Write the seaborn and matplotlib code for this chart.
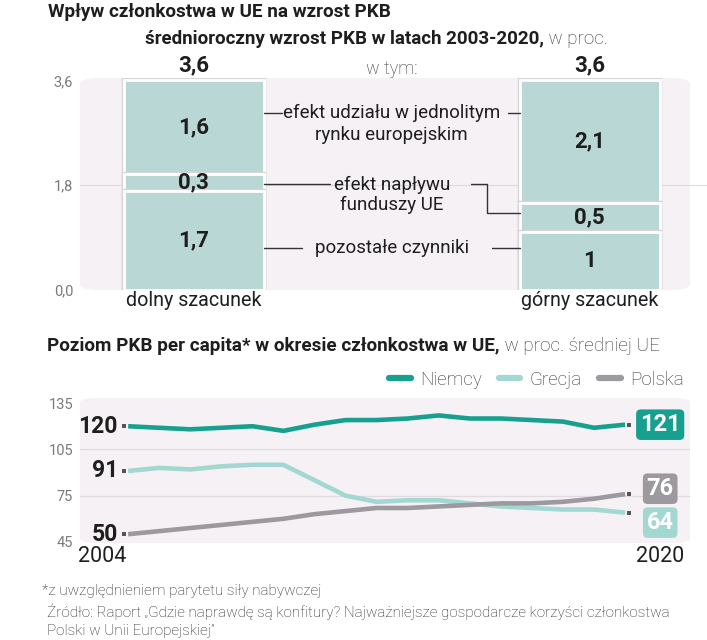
import numpy as np
import pandas as pd
import seaborn as sns
import matplotlib.pyplot as plt
from matplotlib.patches import FancyBboxPatch

# top chart: average annual GDP growth 2003-2020, %
estimates = ["dolny szacunek", "górny szacunek"]
pozostale = [1.7, 1.0]
fundusze = [0.3, 0.5]
jednolity = [1.6, 2.1]
totals = [3.6, 3.6]
top_ticks = [0.0, 1.8, 3.6]
top_tick_labels = ["0,0", "1,8", "3,6"]

# bottom chart: GDP per capita, % of EU average
years = list(range(2004, 2021))
niemcy = [120, 119, 118, 119, 120, 117, 121, 124, 124, 125, 127, 125, 125, 124, 123, 119, 121]
grecja = [91, 93, 92, 94, 95, 95, 85, 75, 71, 72, 72, 70, 68, 67, 66, 66, 64]
polska = [50, 52, 54, 56, 58, 60, 63, 65, 67, 67, 68, 69, 70, 70, 71, 73, 76]
countries = ["Niemcy", "Grecja", "Polska"]
bottom_ticks = [45, 75, 105, 135]

BAR = "#b4dcd9"
PANEL = "#f6f1f4"
DARK = "#1e1e1e"
GREY = "#7a7a7a"
palette = {"Niemcy": "#17a08f", "Grecja": "#a2d8d1", "Polska": "#9c9a9f"}
label_shift = {"Niemcy": 0, "Grecja": -6.5, "Polska": 3.5}


def fmt(v):
    return f"{v:g}".replace(".", ",")


sns.set_theme(style="white")
plt.rcParams["font.family"] = ["Roboto", "DejaVu Sans"]

fig = plt.figure(figsize=(7.07, 6.4), dpi=100)
W, H = 707, 640
renderer = fig.canvas.get_renderer()


def two_part(x, y, bold, light, size):
    # bold head followed by a lighter tail on the same line
    t = fig.text(x / W, 1 - y / H, bold, fontsize=size, fontweight="bold",
                 color=DARK, va="center")
    x1 = t.get_window_extent(renderer).x1
    fig.text(x1 / W, 1 - y / H, light, fontsize=size, fontweight="light",
             color="#333", va="center")


# titles
fig.text(48 / W, 1 - 12 / H, "Wpływ członkostwa w UE na wzrost PKB",
         fontsize=13.6, fontweight="bold", color=DARK, va="center")
two_part(145, 39, "średnioroczny wzrost PKB w latach 2003-2020,", " w proc.", 13.5)

# ---------------- top chart
ax1 = fig.add_axes([80 / W, 1 - 290 / H, 610 / W, 212 / H])
ax1.patch.set_visible(False)
bw = 0.354
layers = [np.array(totals),
          np.array(pozostale) + np.array(fundusze),
          np.array(pozostale)]
for cum in layers:
    # grey rim first, then white separator on top of it
    sns.barplot(x=estimates, y=cum, color=BAR, width=bw, edgecolor="#d6d6d6",
                linewidth=3.2, errorbar=None, ax=ax1, zorder=2)
    sns.barplot(x=estimates, y=cum, color=BAR, width=bw, edgecolor="white",
                linewidth=2.0, errorbar=None, ax=ax1, zorder=2)

ax1.add_patch(FancyBboxPatch((0, 0), 1, 1, boxstyle="round,pad=0,rounding_size=0.03",
                             transform=ax1.transAxes, fc=PANEL, ec="none", zorder=0))
ax1.axhline(1.8, color="#dcdcdc", lw=0.8, zorder=1, xmax=1.03, clip_on=False)
ax1.set_xlim(-0.288, 1.254)
ax1.set_ylim(0, 3.64)
sns.despine(ax=ax1, left=True, bottom=True)
ax1.set_yticks(top_ticks, top_tick_labels)
ax1.tick_params(axis="y", length=0, pad=5, labelsize=10.5, labelcolor=GREY)
ax1.set_xticks([0, 1], estimates)
ax1.tick_params(axis="x", length=0, pad=1, labelsize=14.2, labelcolor=DARK)
ax1.set_xlabel("")
ax1.set_ylabel("")

for i in range(2):
    bottoms = [0, pozostale[i], pozostale[i] + fundusze[i]]
    for b, v in zip(bottoms, [pozostale[i], fundusze[i], jednolity[i]]):
        ax1.text(i, b + v / 2, fmt(v), ha="center", va="center", fontsize=16,
                 fontweight="bold", color=DARK, zorder=5)
    ax1.text(i, totals[i] + 0.25, fmt(totals[i]), ha="center", va="center",
             fontsize=16, fontweight="bold", color=DARK)
ax1.text(0.5, 3.8, "w tym:", ha="center", va="center", fontsize=13,
         fontweight="light", color="#333")

# segment descriptions with leader lines
e1, e2 = bw / 2, 1 - bw / 2
lk = dict(color="#333", lw=1, zorder=3, clip_on=False)
tk = dict(ha="center", va="center", fontsize=13.5, color=DARK)
ax1.text(0.5, 3.04, "efekt udziału w jednolitym", **tk)
ax1.text(0.5, 2.66, "rynku europejskim", **tk)
ax1.plot([e1, 0.222], [3.04, 3.04], **lk)
ax1.plot([0.793, e2], [3.04, 3.04], **lk)
ax1.text(0.5, 1.80, "efekt napływu", **tk)
ax1.text(0.5, 1.46, "funduszy UE", **tk)
ax1.plot([e1, 0.343], [1.82, 1.82], **lk)
ax1.plot([0.70, 0.741, 0.741, e2], [1.82, 1.82, 1.32, 1.32], **lk)
ax1.text(0.5, 0.72, "pozostałe czynniki", **tk)
ax1.plot([e1, 0.273], [0.72, 0.72], **lk)
ax1.plot([0.753, e2], [0.72, 0.72], **lk)

# ---------------- bottom chart
two_part(47, 346, "Poziom PKB per capita* w okresie członkostwa w UE,",
         " w proc. średniej UE", 13.6)

df = pd.DataFrame({
    "rok": years * 3,
    "wartosc": niemcy + grecja + polska,
    "kraj": [c for c in countries for _ in years],
})
series = dict(zip(countries, [niemcy, grecja, polska]))

ax2 = fig.add_axes([80 / W, 1 - 543 / H, 610 / W, 145 / H])
ax2.patch.set_visible(False)
sns.lineplot(data=df, x="rok", y="wartosc", hue="kraj", hue_order=countries,
             palette=palette, linewidth=3.3, ax=ax2, zorder=3,
             solid_joinstyle="round", solid_capstyle="butt")
ax2.add_patch(FancyBboxPatch((0, 0), 1, 1, boxstyle="round,pad=0,rounding_size=0.03",
                             transform=ax2.transAxes, fc=PANEL, ec="none", zorder=0))
for g in [75, 105]:
    ax2.axhline(g, color="#e0dbdf", lw=0.9, zorder=1)
ax2.set_xlim(2002.45, 2022.09)
ax2.set_ylim(44.3, 138.3)
sns.despine(ax=ax2, left=True, bottom=True)
ax2.set_yticks(bottom_ticks, [str(t) for t in bottom_ticks])
ax2.tick_params(axis="y", length=0, pad=5, labelsize=10.5, labelcolor=GREY)
ax2.set_xticks([])
ax2.set_xlabel("")
ax2.set_ylabel("")

for c in countries:
    vals = series[c]
    ax2.scatter([years[0] - 0.13, years[-1] + 0.13], [vals[0], vals[-1]], marker="s",
                s=10, color="#555", zorder=4, linewidths=0)
    ax2.text(years[0] - 0.33, vals[0], str(vals[0]), ha="right", va="center",
             fontsize=16.5, fontweight="bold", color=DARK)
    ax2.text(years[-1] + 1.13, vals[-1] + label_shift[c], str(vals[-1]), ha="center",
             va="center", fontsize=17, fontweight="bold", color="white", zorder=5,
             bbox=dict(boxstyle="round,pad=0.16,rounding_size=0.2", fc=palette[c], ec="none"))

ax2.text(years[0] - 0.05, 35.5, str(years[0]), ha="right", va="center", fontsize=15.5, color=DARK)
ax2.text(years[-1] + 1.13, 35.5, str(years[-1]), ha="center", va="center", fontsize=15.5, color=DARK)

sns.move_legend(ax2, "lower right", bbox_to_anchor=(1.005, 1.0), ncol=3, frameon=False,
                title=None, prop={"size": 13.5, "weight": "light"}, handlelength=1.15,
                handletextpad=0.5, columnspacing=0.9, borderaxespad=0.1)
for h in ax2.get_legend().legend_handles:
    h.set_linewidth(4.5)
    h.set_solid_capstyle("round")
for t in ax2.get_legend().get_texts():
    t.set_color("#333")

# footnotes
fk = dict(fontsize=11, fontweight="light", color="#222", va="center")
fig.text(42 / W, 1 - 591 / H, "*z uwzględnieniem parytetu siły nabywczej", **fk)
fig.text(47 / W, 1 - 612 / H,
         "Źródło: Raport „Gdzie naprawdę są konfitury? Najważniejsze gospodarcze korzyści członkostwa",
         **fk)
fig.text(47 / W, 1 - 631 / H, "Polski w Unii Europejskiej”", **fk)

fig.savefig("out.png", dpi=100)
